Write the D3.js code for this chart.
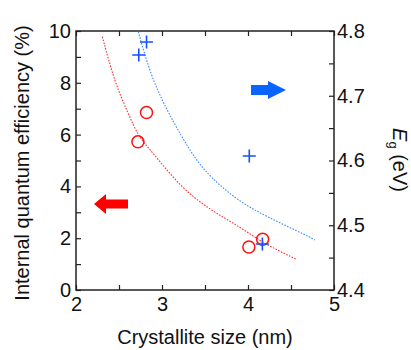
<!DOCTYPE html>
<html>
<head>
<meta charset="utf-8">
<script src="https://cdn.jsdelivr.net/npm/d3@7"></script>
<style>
  body { margin: 0; background: #fff; }
  text { font-family: "Liberation Sans", Arial, sans-serif; fill: #111; }
</style>
</head>
<body>
<svg id="chart" width="411" height="350"></svg>
<script>
// measured points
let iqe_size = [2.72, 2.82, 4.01, 4.17]
let iqe_value = [5.72, 6.85, 1.66, 1.96]
let eg_size = [2.73, 2.82, 4.015, 4.167]
let eg_value = [4.763, 4.783, 4.607, 4.471]

// dotted guide curves
let iqe_fit_x = [2.306, 2.453, 2.608, 2.724, 2.88, 3.209, 3.558, 3.907, 4.178, 4.554]
let iqe_fit_y = [9.78, 7.98, 6.82, 5.92, 5.36, 3.99, 3.09, 2.44, 1.80, 1.20]
let eg_fit_x = [2.724, 2.86, 3.035, 3.228, 3.384, 3.558, 3.869, 4.217, 4.721, 4.779]
let eg_fit_y = [4.799, 4.735, 4.683, 4.637, 4.603, 4.575, 4.539, 4.513, 4.482, 4.477]

let x_ticks = [2, 3, 4, 5]
let y_ticks = [0, 2, 4, 6, 8, 10]
let eg_ticks = [4.4, 4.5, 4.6, 4.7, 4.8]

let margin = {left: 76, right: 77, top: 31, bottom: 60}
let width = 411, height = 350
let red = "#ff1010", blue = "#1450ff"

var svg = d3.select("#chart")
var x = d3.scaleLinear().domain([2, 5]).range([margin.left, width - margin.right])
var y = d3.scaleLinear().domain([0, 10]).range([height - margin.bottom, margin.top])
var y2 = d3.scaleLinear().domain([4.4, 4.8]).range([height - margin.bottom, margin.top])

function style_axis(g){
  g.select(".domain").remove()
  g.selectAll(".tick line").attr("stroke", "#222").attr("stroke-width", 1.2)
  g.selectAll(".tick text").attr("font-size", 20).attr("fill", "#111")
}

function minor(ticks){
  let out = []
  for (let i = 0; i < ticks.length - 1; i++) out.push(ticks[i], (ticks[i] + ticks[i+1]) / 2)
  out.push(ticks[ticks.length-1])
  return out
}

let x_minor = minor(x_ticks)
let y_minor = minor(y_ticks)
let eg_minor = minor(eg_ticks)

// bottom axis, ticks inward
svg.append("g").attr("transform", `translate(0,${y.range()[0]})`)
  .call(d3.axisBottom(x).tickValues(x_minor).tickSize(-5).tickPadding(7)
    .tickFormat(d => x_ticks.includes(d) ? d3.format("d")(d) : ""))
  .call(style_axis)
// top axis ticks
svg.append("g").attr("transform", `translate(0,${y.range()[1]})`)
  .call(d3.axisTop(x).tickValues(x_minor).tickSize(-5).tickFormat(""))
  .call(style_axis)
// left axis
svg.append("g").attr("transform", `translate(${x.range()[0]},0)`)
  .call(d3.axisLeft(y).tickValues(y_minor).tickSize(-5).tickPadding(5)
    .tickFormat(d => y_ticks.includes(d) ? d3.format("d")(d) : ""))
  .call(style_axis)
// right axis
svg.append("g").attr("transform", `translate(${x.range()[1]},0)`)
  .call(d3.axisRight(y2).tickValues(eg_minor).tickSize(-5).tickPadding(3)
    .tickFormat(d => eg_ticks.includes(d) ? d3.format(".1f")(d) : ""))
  .call(style_axis)

// frame
svg.append("rect")
  .attr("x", x.range()[0]).attr("y", y.range()[1])
  .attr("width", x.range()[1] - x.range()[0]).attr("height", y.range()[0] - y.range()[1])
  .attr("fill", "none").attr("stroke", "#222").attr("stroke-width", 1.5)

// guide curves
var iqe_line = d3.line().x(d => x(d[0])).y(d => y(d[1])).curve(d3.curveBasis)
var eg_line = d3.line().x(d => x(d[0])).y(d => y2(d[1])).curve(d3.curveBasis)

svg.append("path").attr("d", iqe_line(d3.zip(iqe_fit_x, iqe_fit_y)))
  .attr("fill", "none").attr("stroke", "#ff3030").attr("stroke-width", 1.1).attr("stroke-dasharray", "1.6,1.4")
svg.append("path").attr("d", eg_line(d3.zip(eg_fit_x, eg_fit_y)))
  .attr("fill", "none").attr("stroke", "#3a8cff").attr("stroke-width", 1.1).attr("stroke-dasharray", "1.6,1.4")

// circles
svg.selectAll(".iqe").data(d3.zip(iqe_size, iqe_value)).join("circle")
  .attr("cx", d => x(d[0])).attr("cy", d => y(d[1])).attr("r", 6)
  .attr("fill", "none").attr("stroke", red).attr("stroke-width", 1.5)

// crosses
svg.selectAll(".eg").data(d3.zip(eg_size, eg_value)).join("path")
  .attr("d", d => `M${x(d[0]) - 6.5},${y2(d[1])}h13M${x(d[0])},${y2(d[1]) - 6.5}v13`)
  .attr("stroke", blue).attr("stroke-width", 1.6).attr("fill", "none")

// arrows
function arrow(tip_x, tip_y, dir, shaft_len, head_len, shaft_h, head_h, color){
  let p = d3.path()
  let s = dir
  p.moveTo(tip_x, tip_y)
  p.lineTo(tip_x - s*head_len, tip_y - head_h/2)
  p.lineTo(tip_x - s*head_len, tip_y - shaft_h/2)
  p.lineTo(tip_x - s*(head_len + shaft_len), tip_y - shaft_h/2)
  p.lineTo(tip_x - s*(head_len + shaft_len), tip_y + shaft_h/2)
  p.lineTo(tip_x - s*head_len, tip_y + shaft_h/2)
  p.lineTo(tip_x - s*head_len, tip_y + head_h/2)
  p.closePath()
  svg.append("path").attr("d", p.toString()).attr("fill", color)
}
arrow(286, 90, 1, 17, 18, 10, 18, "#0a64ff")
arrow(94, 204, -1, 22, 12, 9, 20, "#ff0000")

// titles
svg.append("text").attr("x", 205).attr("y", 344)
  .attr("text-anchor", "middle").attr("font-size", 20).text("Crystallite size (nm)")
svg.append("text").attr("transform", `translate(29,163) rotate(-90)`)
  .attr("text-anchor", "middle").attr("font-size", 20).text("Internal quantum efficiency (%)")
var eg_title = svg.append("text").attr("transform", `translate(393,160) rotate(90)`)
  .attr("text-anchor", "middle").attr("font-size", 20)
eg_title.append("tspan").attr("font-style", "italic").text("E")
eg_title.append("tspan").attr("font-size", 13).attr("dy", 4).text("g")
eg_title.append("tspan").attr("dy", -4).text(" (eV)")
</script>
</body>
</html>
